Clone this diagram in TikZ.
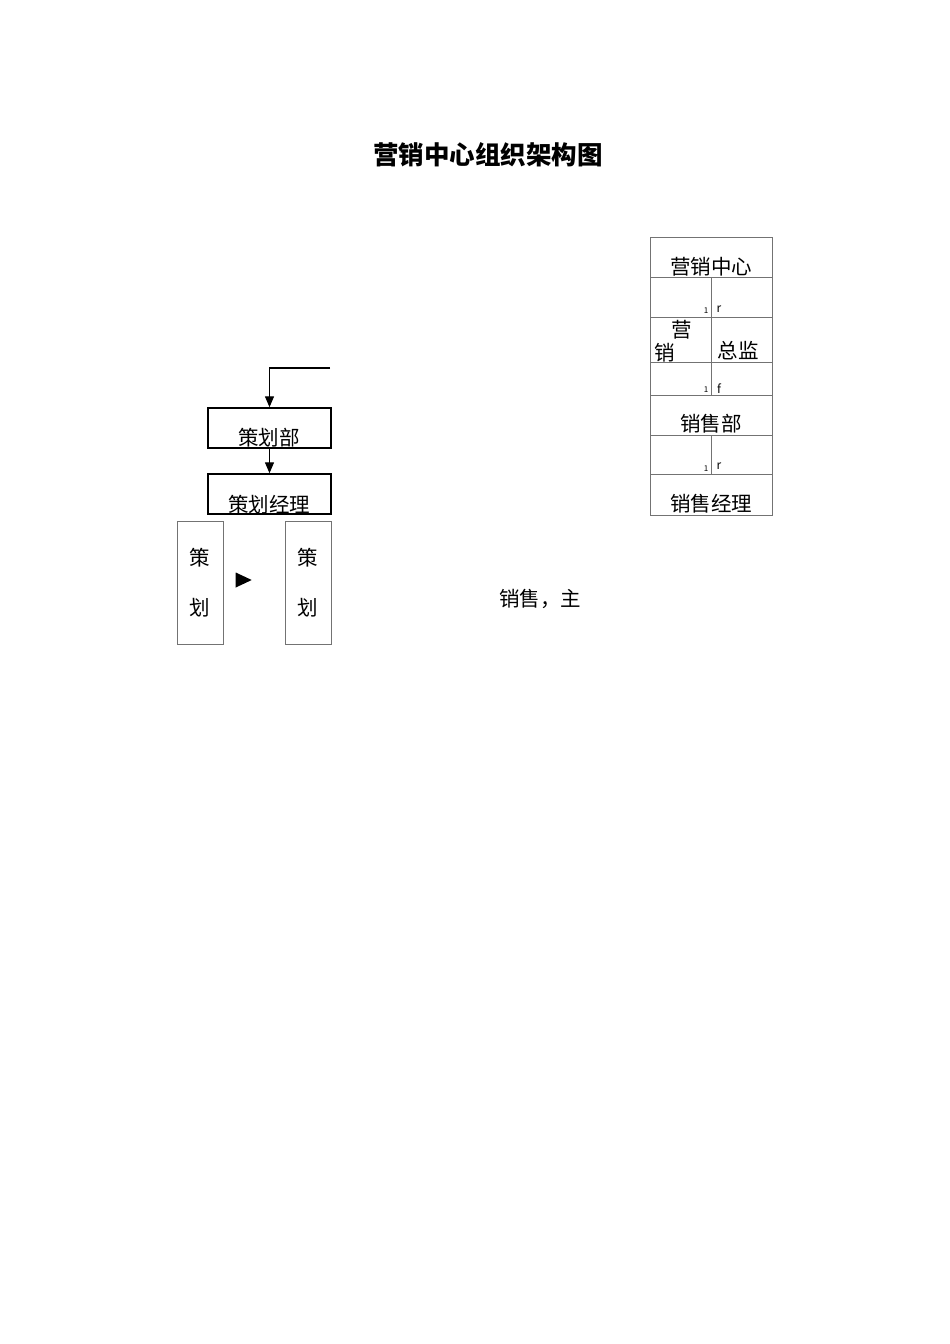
\documentclass[tikz,border=0pt]{standalone}
\usepackage{fontspec}
\setmainfont{Noto Sans CJK SC}
\usepackage{tikz}
\usetikzlibrary{shapes.geometric, arrows.meta, calc}

\begin{document}
\begin{tikzpicture}[x=1pt, y=-1pt]
	\tikzstyle{box} = [rectangle, draw=black, line width=1.4pt, minimum width=123pt, minimum height=40pt, inner sep=0pt]
	\tikzstyle{cell} = [rectangle, draw=black!55, line width=0.9pt, inner sep=0pt]
	\tikzstyle{tall} = [rectangle, draw=black!55, line width=0.9pt, minimum width=46pt, minimum height=123pt, inner sep=0pt]
	\tikzstyle{word} = [inner sep=0pt, font=\fontsize{20.5pt}{24pt}\selectfont]
	\tikzstyle{tiny} = [inner sep=0pt, font=\fontsize{8pt}{9pt}\selectfont]
	\tikzstyle{tick} = [inner sep=0pt, font=\fontsize{12pt}{13pt}\selectfont]
	\tikzstyle{arrow} = [line width=1.3pt, -{Triangle[length=11pt, width=9pt]}]
  \useasboundingbox (0,0) rectangle (950,1344);

  \node(title)[font=\fontsize{25.5pt}{30pt}\selectfont\bfseries] at (488,155) {营销中心组织架构图};

  % right column
  \node(center)[cell, minimum width=122pt, minimum height=40pt] at (711,257) {};
  \node(c2l)[cell, minimum width=61pt, minimum height=40pt] at (680.5,297) {};
  \node(c2r)[cell, minimum width=61pt, minimum height=40pt] at (741.5,297) {};
  \node(c3l)[cell, minimum width=61pt, minimum height=45pt] at (680.5,339.5) {};
  \node(c3r)[cell, minimum width=61pt, minimum height=45pt] at (741.5,339.5) {};
  \node(c4l)[cell, minimum width=61pt, minimum height=33pt] at (680.5,378.5) {};
  \node(c4r)[cell, minimum width=61pt, minimum height=33pt] at (741.5,378.5) {};
  \node(sales)[cell, minimum width=122pt, minimum height=40pt] at (711,415) {};
  \node(c6l)[cell, minimum width=61pt, minimum height=39pt] at (680.5,454.5) {};
  \node(c6r)[cell, minimum width=61pt, minimum height=39pt] at (741.5,454.5) {};
  \node(salesmgr)[cell, minimum width=122pt, minimum height=41pt] at (711,494.5) {};

  \node(t1)[word] at (711,267) {营销中心};
  \node(n1)[tiny] at (706,311) {1};
  \node(m1)[tick] at (719,309) {r};
  \node(t2)[word] at (682,330) {营};
  \node(t3)[word] at (665,353) {销};
  \node(t4)[word] at (738,351) {总监};
  \node(n2)[tiny] at (706,390) {1};
  \node(m2)[tick, font=\fontsize{12pt}{13pt}\itshape] at (719,389) {f};
  \node(t5)[word] at (711,424) {销售部};
  \node(n3)[tiny] at (706,469) {1};
  \node(m3)[tick] at (719,466) {r};
  \node(t6)[word] at (711,504) {销售经理};

  % left branch
  \coordinate(feed) at (330,368);
  \node(plan)[box] at (269.5,428) {};
  \node(planmgr)[box] at (269.5,494) {};
  \node[word] at (269,438) {策划部};
  \node[word] at (269,505) {策划经理};
  \node(p1)[tall] at (200,582.5) {};
  \node(p2)[tall] at (308,582.5) {};
  \node[word] at (200,558) {策};
  \node[word] at (200,608) {划};
  \node[word] at (308,558) {策};
  \node[word] at (308,608) {划};
  \node(tri)[isosceles triangle, fill=black, inner sep=0pt, minimum width=15pt, minimum height=16pt, isosceles triangle stretches] at (240.5,580) {};

  \draw [arrow] (feed) -| (plan.north);
  \draw [arrow] (plan) -- (planmgr);

  \node(note)[word] at (540,599) {销售，主};
\end{tikzpicture}
\end{document}
